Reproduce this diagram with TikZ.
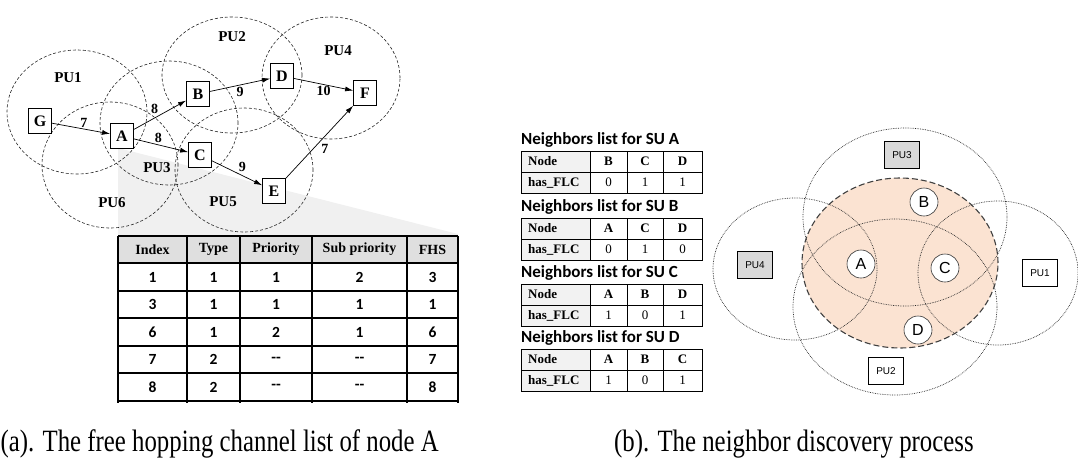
\documentclass[tikz,border=0pt]{standalone}
\usepackage{fontspec}
\setmainfont{Liberation Serif}
\newfontfamily\calib{Carlito}
\newfontfamily\pusf{Liberation Sans}
\newfontfamily\capfont{Liberation Serif}[FakeStretch=0.8]
\usetikzlibrary{arrows.meta}
\definecolor{peach}{RGB}{251,227,210}
\newcommand{\twodash}{-{}-}

\tikzset{
  su/.style={draw,line width=0.8pt,fill=white,minimum width=23pt,minimum height=25pt,inner sep=0pt,
    font=\fontsize{16}{16}\selectfont\bfseries},
  pu range/.style={draw=black!85,line width=0.6pt,dash pattern=on 3pt off 2pt},
  pu label/.style={font=\fontsize{15}{15}\selectfont\bfseries},
  hop/.style={-{Latex[length=8pt,width=5pt]},line width=0.7pt},
  hop cost/.style={font=\fontsize{14}{14}\selectfont\bfseries,inner sep=1.5pt},
  fhs head/.style={font=\fontsize{14}{14}\selectfont\bfseries},
  fhs cell/.style={font=\calib\fontsize{15.5}{15.5}\selectfont\bfseries},
  list title/.style={font=\calib\fontsize{17}{17}\selectfont\bfseries,inner sep=1pt},
  list head/.style={font=\fontsize{13}{13}\selectfont\bfseries,inner sep=1pt},
  list cell/.style={font=\fontsize{13}{13}\selectfont,inner sep=1pt},
  pu zone/.style={draw=black!85,line width=0.7pt,densely dotted},
  pu box/.style={draw,line width=0.7pt,minimum width=35pt,minimum height=27pt,inner sep=0pt,
    font=\pusf\fontsize{10}{10}\selectfont},
  su circle/.style={circle,draw=black!80,line width=0.6pt,fill=white,minimum size=28pt,inner sep=0pt,
    font=\pusf\fontsize{16}{16}\selectfont},
  caption/.style={font=\capfont\fontsize{31}{31}\selectfont,inner sep=0pt}
}

\begin{document}
\begin{tikzpicture}[x=1pt,y=-1pt]
\useasboundingbox (0,0) rectangle (1078,458);

% (a) channel list
\fill[gray!12] (118,148) -- (458,234) -- (458,401) -- (118,401) -- cycle;
\foreach \cx/\cy/\rx/\ry in {77/112/70/62,110/165/68/63,169/123/69/62,232/75/70/58,331/78/69/61,244/170/69/62}
  \draw[pu range] (\cx,\cy) ellipse [x radius=\rx pt,y radius=\ry pt];
\node[pu label] (pu1) at (68,78) {PU1};
\node[pu label] (pu2) at (232,37) {PU2};
\node[pu label] (pu3) at (157,168) {PU3};
\node[pu label] (pu4) at (338,51) {PU4};
\node[pu label] (pu5) at (223,202) {PU5};
\node[pu label] (pu6) at (112,203) {PU6};

\node[su] (g) at (40,121) {G};
\node[su] (a) at (122,136) {A};
\node[su] (b) at (198,94) {B};
\node[su] (c) at (200,155) {C};
\node[su] (d) at (282,76) {D};
\node[su] (e) at (274,191) {E};
\node[su] (f) at (365,93) {F};

\draw[hop] (g) -- node[hop cost,above,pos=0.55] {7} (a);
\draw[hop] (a) -- node[hop cost,above left,pos=0.5] {8} (b);
\draw[hop] (a) -- node[hop cost,above,pos=0.45] {8} (c);
\draw[hop] (b) -- node[hop cost,below,pos=0.5] {9} (d);
\draw[hop] (d) -- node[hop cost,below,pos=0.5] {10} (f);
\draw[hop] (c) -- node[hop cost,above right,pos=0.5] {9} (e);
\draw[hop] (e) -- node[hop cost,below right,pos=0.5] {7} (f);

\fill[gray!25] (118,236) rectangle (458,263);
\fill[white] (118,263) rectangle (458,401);
\foreach \y in {236,263,291,318,346,373,401}
  \draw[line width=1.1pt] (118,\y) -- (458,\y);
\foreach \x in {118,187,240,312,407,458}
  \draw[line width=1.1pt] (\x,236) -- (\x,403);
\foreach \x/\h [count=\i] in {152.5/Index,213.5/Type,276/Priority,359.5/Sub priority,432.5/FHS}
  \node[fhs head] (head\i) at (\x,249.5) {\h};
\foreach \ia/\ib/\ic/\id/\ie [count=\r] in {1/1/1/2/3,3/1/1/1/1,6/1/2/1/6,7/2/\twodash/\twodash/7,8/2/\twodash/\twodash/8} {
  \node[fhs cell] (idx\r) at (152.5,{249.5+27.5*\r}) {\ia};
  \node[fhs cell] (typ\r) at (213.5,{249.5+27.5*\r}) {\ib};
  \node[fhs cell] (pri\r) at (276,{249.5+27.5*\r}) {\ic};
  \node[fhs cell] (sub\r) at (359.5,{249.5+27.5*\r}) {\id};
  \node[fhs cell] (fhs\r) at (432.5,{249.5+27.5*\r}) {\ie};
}

% (b) neighbor lists
\foreach \tp/\su/\na/\nb/\nc/\va/\vb/\vc in {151/A/B/C/D/0/1/1,218/B/A/C/D/0/1/0,284/C/A/B/D/1/0/1,349/D/A/B/C/1/0/1} {
  \node[list title,anchor=west] (title\su) at (520,{\tp-11}) {Neighbors list for SU \su};
  \fill[gray!10] (521,\tp) rectangle (590,{\tp+42});
  \draw[line width=0.8pt] (521,\tp) rectangle (702,{\tp+42});
  \draw[line width=0.6pt] (521,{\tp+21}) -- (702,{\tp+21});
  \foreach \x in {590,627,663}
    \draw[line width=0.6pt] (\x,\tp) -- (\x,{\tp+42});
  \node[list head,anchor=west] (node\su) at (527,{\tp+10.5}) {Node};
  \node[list head,anchor=west] (flc\su) at (527,{\tp+31.5}) {has\_FLC};
  \node[list head] (n\su1) at (608.5,{\tp+10.5}) {\na};
  \node[list head] (n\su2) at (645,{\tp+10.5}) {\nb};
  \node[list head] (n\su3) at (682.5,{\tp+10.5}) {\nc};
  \node[list cell] (v\su1) at (608.5,{\tp+31.5}) {\va};
  \node[list cell] (v\su2) at (645,{\tp+31.5}) {\vb};
  \node[list cell] (v\su3) at (682.5,{\tp+31.5}) {\vc};
}

% (b) discovery
\fill[peach] (900,263) ellipse [x radius=98pt,y radius=85pt];
\foreach \cx/\cy/\rx/\ry in {905/217/102/89,895/307/102/88,795/269/82/71,998/273/80/72}
  \draw[pu zone] (\cx,\cy) ellipse [x radius=\rx pt,y radius=\ry pt];
\draw[draw=black!75,line width=1.1pt,dash pattern=on 6pt off 3pt] (900,263) ellipse [x radius=98pt,y radius=85pt];
\node[pu box,fill=gray!30] (pu3b) at (902,155) {PU3};
\node[pu box,fill=gray!30] (pu4b) at (755,265) {PU4};
\node[pu box,fill=white] (pu1b) at (1040,273) {PU1};
\node[pu box,fill=white] (pu2b) at (886,371) {PU2};
\node[su circle] (sub) at (924,202) {B};
\node[su circle] (sua) at (861,264) {A};
\node[su circle] (suc) at (945,268) {C};
\node[su circle] (sud) at (918,330) {D};

\node[caption,anchor=base west] (capa) at (0.5,451) {(a). The free hopping channel list of node A};
\node[caption,anchor=base west] (capb) at (614,451) {(b). The neighbor discovery process};
\end{tikzpicture}
\end{document}
